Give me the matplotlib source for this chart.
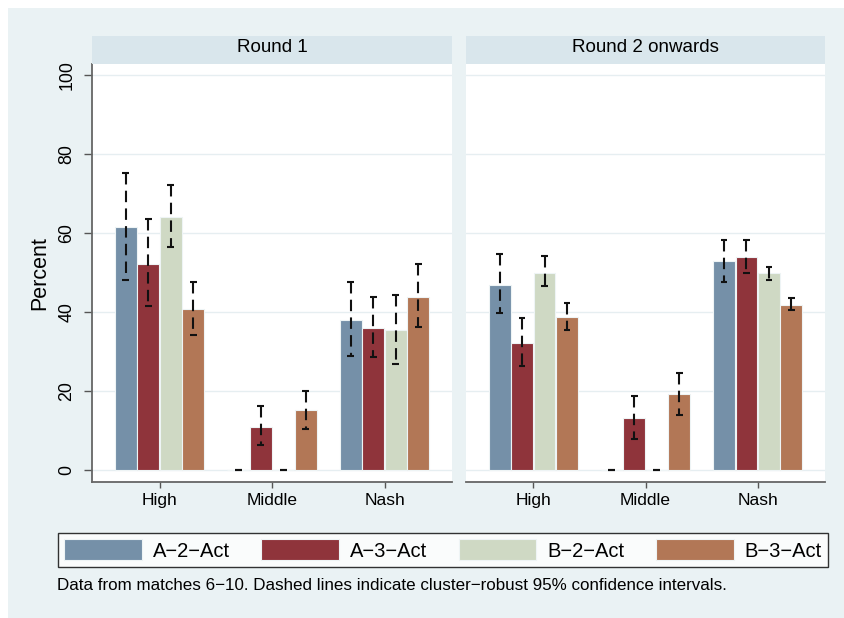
import matplotlib
matplotlib.use("Agg")
import matplotlib.pyplot as plt
from matplotlib.patches import Rectangle, Patch
import numpy as np

plt.rcParams['font.family'] = ['Liberation Sans', 'DejaVu Sans']

categories = ["High", "Middle", "Nash"]
panels = ["Round 1", "Round 2 onwards"]
series = ["A\u22122\u2212Act", "A\u22123\u2212Act", "B\u22122\u2212Act", "B\u22123\u2212Act"]
colors = ["#7590A8", "#8F343B", "#CFD9C4", "#B27756"]

# values[panel][series][category]
r1_vals = [[61.6, 0.0, 38.1],
           [52.3, 10.9, 36.1],
           [64.1, 0.0, 35.4],
           [40.8, 15.2, 43.9]]
r1_hi = [[75.1, 0.0, 47.5],
         [63.5, 16.2, 43.9],
         [72.2, 0.0, 44.3],
         [47.7, 20.0, 52.2]]
r1_lo = [[48.1, 0.0, 28.9],
         [41.5, 6.3, 28.7],
         [56.5, 0.0, 26.8],
         [34.2, 10.4, 36.3]]

r2_vals = [[46.8, 0.0, 52.9],
           [32.3, 13.2, 54.0],
           [50.0, 0.0, 49.8],
           [38.7, 19.2, 41.9]]
r2_hi = [[54.7, 0.0, 58.2],
         [38.4, 18.7, 58.2],
         [54.2, 0.0, 51.5],
         [42.2, 24.5, 43.5]]
r2_lo = [[39.8, 0.0, 47.7],
         [26.3, 7.8, 49.8],
         [46.6, 0.0, 48.1],
         [35.4, 13.9, 40.5]]

yticks = [0, 20, 40, 60, 80, 100]
footnote = "Data from matches 6\u221210. Dashed lines indicate cluster\u2212robust 95% confidence intervals."

W, H = 844, 618
fig = plt.figure(figsize=(W / 100, H / 100), dpi=100)
fig.patch.set_facecolor("white")
bg = "#EAF2F4"
fig.add_artist(Rectangle((8 / W, 0), 1 - 8 / W, 1 - 8 / H, transform=fig.transFigure,
                         facecolor=bg, edgecolor="none", zorder=-10))

def fx(px):
    return px / W

def fy(py):
    return 1 - py / H

panel_x = [(92, 452), (466, 825)]
top_px, bot_px = 64, 482
data = [(r1_vals, r1_hi, r1_lo), (r2_vals, r2_hi, r2_lo)]
group_pos = np.arange(len(categories)) * 5.0
offsets = [-1.5, -0.5, 0.5, 1.5]

for p, (x0, x1) in enumerate(panel_x):
    ax = fig.add_axes([fx(x0), fy(bot_px), fx(x1 - x0), (bot_px - top_px) / H])
    ax.set_facecolor("white")
    vals, his, los = data[p]
    for s in range(len(series)):
        xs = group_pos + offsets[s]
        ax.bar(xs, vals[s], width=0.97, color=colors[s], edgecolor="#EEF4F5",
               linewidth=0.8, zorder=3)
        for i in range(len(categories)):
            ax.plot([xs[i], xs[i]], [his[s][i], los[s][i]], color="#111111",
                    lw=1.5, dashes=(5.5, 3), zorder=4, solid_capstyle="butt",
                    dash_capstyle="butt")
            ax.plot([xs[i] - 0.15, xs[i] + 0.15], [his[s][i], his[s][i]],
                    color="#111111", lw=1.5, zorder=5, solid_capstyle="butt")
            ax.plot([xs[i] - 0.15, xs[i] + 0.15], [los[s][i], los[s][i]],
                    color="#111111", lw=1.5, zorder=5, solid_capstyle="butt")
    ax.set_xlim(-3, 13)
    ax.set_ylim(-3.0, 102.8)
    ax.set_yticks(yticks)
    ax.yaxis.grid(True, color="#E6EEF1", lw=1.0, zorder=0)
    ax.set_axisbelow(True)
    ax.set_xticks(group_pos)
    ax.set_xticklabels(categories, fontsize=12.5)
    ax.tick_params(axis="x", length=4, width=1, color="#555555", pad=4)
    for side in ["top", "right"]:
        ax.spines[side].set_visible(False)
    ax.spines["bottom"].set_color("#666666")
    ax.spines["bottom"].set_linewidth(1.3)
    if p == 0:
        ax.spines["left"].set_color("#666666")
        ax.spines["left"].set_linewidth(1.3)
        ax.set_yticklabels([str(t) for t in yticks], fontsize=12.8, rotation=90, va="center")
        ax.tick_params(axis="y", length=6, width=1, color="#555555", pad=6)
        ax.set_ylabel("Percent", fontsize=15.5, labelpad=6)
    else:
        ax.spines["left"].set_visible(False)
        ax.tick_params(axis="y", length=0, labelleft=False)
    # header strip
    fig.add_artist(Rectangle((fx(x0), fy(64)), fx(x1 - x0), 28 / H, transform=fig.transFigure,
                             facecolor="#D9E6EC", edgecolor="none"))
    fig.text(fx((x0 + x1) / 2), fy(48), panels[p], ha="center", va="center", fontsize=13.5)

handles = [Patch(facecolor=c, edgecolor="#EEF4F5", lw=0.8) for c in colors]
leg = fig.legend(handles, series, loc="center", ncol=4,
                 bbox_to_anchor=(fx(58), fy(570), fx(828 - 58), 40 / H),
                 mode="expand", fontsize=14.5, handlelength=3.85, handleheight=1.2,
                 handletextpad=0.55, columnspacing=1.0, borderaxespad=0.0,
                 frameon=True, fancybox=False, borderpad=0.3)
leg.get_frame().set_edgecolor("black")
leg.get_frame().set_linewidth(1.0)
leg.get_frame().set_facecolor("white")

fig.text(fx(57), fy(586), footnote, ha="left", va="center", fontsize=12.25)

fig.savefig("out.png", dpi=100, facecolor=fig.get_facecolor())
